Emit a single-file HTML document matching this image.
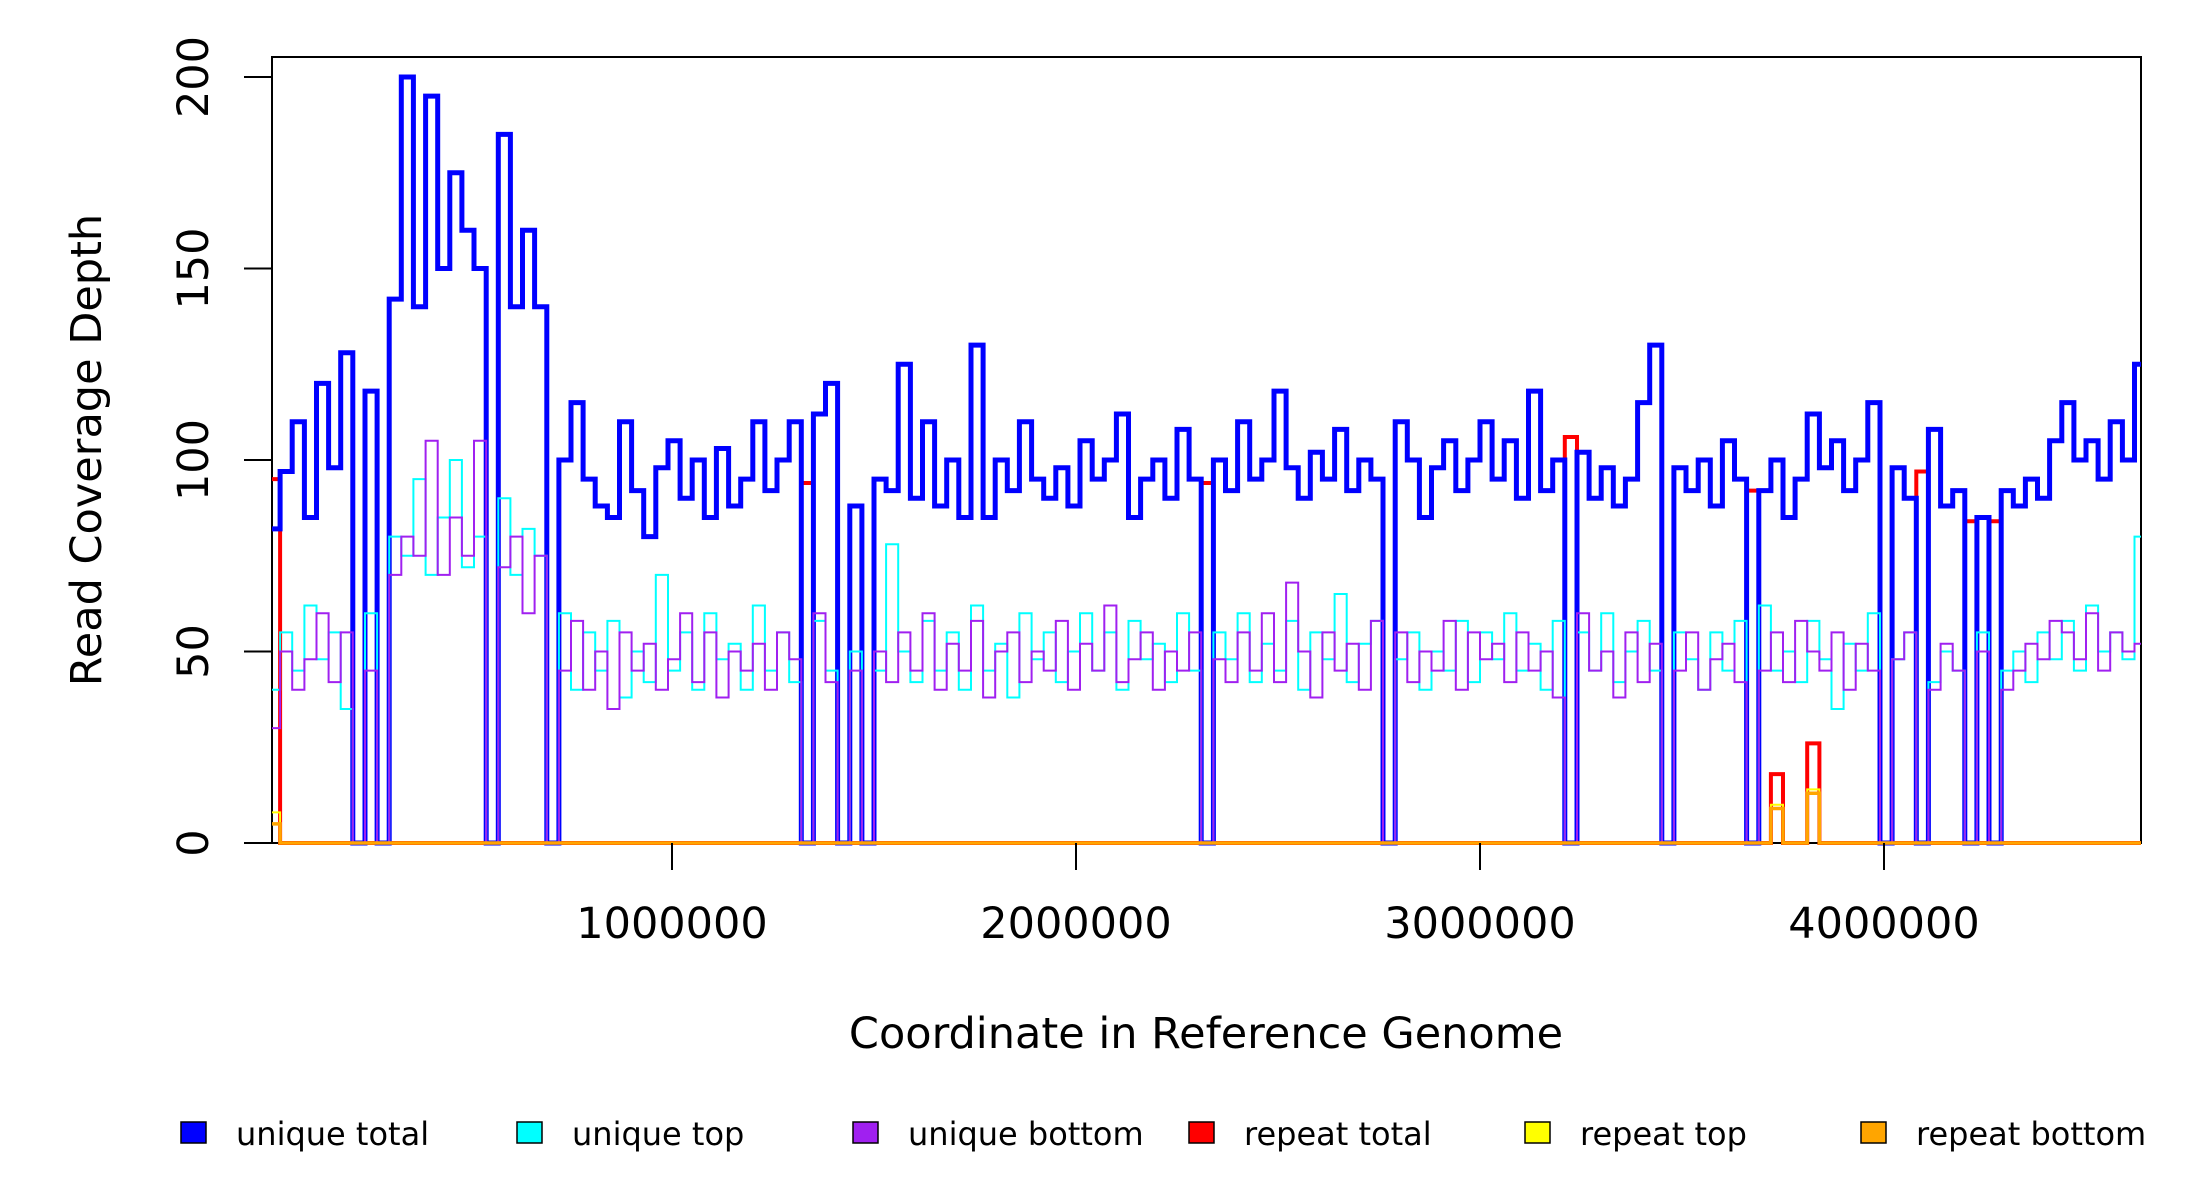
<!DOCTYPE html>
<html><head><meta charset="utf-8"><style>
html,body{margin:0;padding:0;background:#fff;}
svg{display:block;font-family:"DejaVu Sans","Liberation Sans",sans-serif;}
</style></head><body>
<svg id="chart" width="2200" height="1200" viewBox="0 0 2200 1200" xmlns="http://www.w3.org/2000/svg">
<defs><clipPath id="plotclip"><rect x="272" y="57" width="1869" height="790"/></clipPath></defs>
<rect x="0" y="0" width="2200" height="1200" fill="#fff"/>
<rect x="272" y="57" width="1869" height="786" fill="none" stroke="#000" stroke-width="2"/>
<g id="series" clip-path="url(#plotclip)"></g>
<g id="axes"></g>
<text x="101" y="450" transform="rotate(-90 101 450)" text-anchor="middle" font-size="43" fill="#000">Read Coverage Depth</text>
<text x="1206" y="1048" text-anchor="middle" font-size="43" fill="#000">Coordinate in Reference Genome</text>
<g id="legend"></g>
</svg>
<script>
const binSize = 30000;
const xTicks = [1000000, 2000000, 3000000, 4000000];
const xTickLabels = ["1000000", "2000000", "3000000", "4000000"];
const yTicks = [0, 50, 100, 150, 200];
const yTickLabels = ["0", "50", "100", "150", "200"];
const seriesNames = ["unique total", "unique top", "unique bottom", "repeat total", "repeat top", "repeat bottom"];
const seriesColors = ["#0000ff", "#00ffff", "#a020f0", "#ff0000", "#ffff00", "#ffa500"];

const uniqueTotal = [82,97,110,85,120,98,128,0,118,0,142,200,140,195,150,175,160,150,0,185,140,160,140,0,100,115,95,88,85,110,92,80,98,105,90,100,85,103,88,95,110,92,100,110,0,112,120,0,88,0,95,92,125,90,110,88,100,85,130,85,100,92,110,95,90,98,88,105,95,100,112,85,95,100,90,108,95,0,100,92,110,95,100,118,98,90,102,95,108,92,100,95,0,110,100,85,98,105,92,100,110,95,105,90,118,92,100,0,102,90,98,88,95,115,130,0,98,92,100,88,105,95,0,92,100,85,95,112,98,105,92,100,115,0,98,90,0,108,88,92,0,85,0,92,88,95,90,105,115,100,105,95,110,100,125,95,90];
const uniqueTop = [40,55,45,62,48,55,35,0,60,0,80,75,95,70,85,100,72,80,0,90,70,82,75,0,60,40,55,45,58,38,50,42,70,45,55,40,60,48,52,40,62,45,55,42,0,58,45,0,50,0,45,78,50,42,58,45,55,40,62,45,52,38,60,48,55,42,50,60,45,55,40,58,48,52,42,60,45,0,55,48,60,42,52,45,58,40,55,48,65,42,52,58,0,48,55,40,50,45,58,42,55,48,60,45,52,40,58,0,55,45,60,42,50,58,45,0,55,48,40,55,45,58,0,62,45,50,42,58,48,35,52,45,60,0,48,55,0,42,50,45,0,55,0,45,50,42,55,48,58,45,62,50,55,48,80,45,55];
const uniqueBottom = [30,50,40,48,60,42,55,0,45,0,70,80,75,105,70,85,75,105,0,72,80,60,75,0,45,58,40,50,35,55,45,52,40,48,60,42,55,38,50,45,52,40,55,48,0,60,42,0,45,0,50,42,55,45,60,40,52,45,58,38,50,55,42,50,45,58,40,52,45,62,42,48,55,40,50,45,55,0,48,42,55,45,60,42,68,50,38,55,45,52,40,58,0,55,42,50,45,58,40,55,48,52,42,55,45,50,38,0,60,45,50,38,55,42,52,0,45,55,40,48,52,42,0,45,55,42,58,50,45,55,40,52,45,0,48,55,0,40,52,45,0,50,0,40,45,52,48,58,55,48,60,45,55,50,52,48,55];
const repeatTotal = [95,0,0,0,0,0,0,0,0,0,0,0,0,0,0,0,0,0,0,0,0,0,0,0,0,0,0,0,0,0,0,0,0,0,0,0,0,0,0,0,0,0,0,0,94,0,0,0,0,0,0,0,0,0,0,0,0,0,0,0,0,0,0,0,0,0,0,0,0,0,0,0,0,0,0,0,0,94,0,0,0,0,0,0,0,0,0,0,0,0,0,0,0,0,0,0,0,0,0,0,0,0,0,0,0,0,0,106,0,0,0,0,0,0,0,0,0,0,0,0,0,0,92,0,18,0,0,26,0,0,0,0,0,0,0,0,97,0,0,0,84,0,84,0,0,0,0,0,0,0,0,0,0,0,0,0,0];
const repeatTop = [8,0,0,0,0,0,0,0,0,0,0,0,0,0,0,0,0,0,0,0,0,0,0,0,0,0,0,0,0,0,0,0,0,0,0,0,0,0,0,0,0,0,0,0,0,0,0,0,0,0,0,0,0,0,0,0,0,0,0,0,0,0,0,0,0,0,0,0,0,0,0,0,0,0,0,0,0,0,0,0,0,0,0,0,0,0,0,0,0,0,0,0,0,0,0,0,0,0,0,0,0,0,0,0,0,0,0,0,0,0,0,0,0,0,0,0,0,0,0,0,0,0,0,0,10,0,0,14,0,0,0,0,0,0,0,0,0,0,0,0,0,0,0,0,0,0,0,0,0,0,0,0,0,0,0,0,0];
const repeatBottom = [5,0,0,0,0,0,0,0,0,0,0,0,0,0,0,0,0,0,0,0,0,0,0,0,0,0,0,0,0,0,0,0,0,0,0,0,0,0,0,0,0,0,0,0,0,0,0,0,0,0,0,0,0,0,0,0,0,0,0,0,0,0,0,0,0,0,0,0,0,0,0,0,0,0,0,0,0,0,0,0,0,0,0,0,0,0,0,0,0,0,0,0,0,0,0,0,0,0,0,0,0,0,0,0,0,0,0,0,0,0,0,0,0,0,0,0,0,0,0,0,0,0,0,0,9,0,0,13,0,0,0,0,0,0,0,0,0,0,0,0,0,0,0,0,0,0,0,0,0,0,0,0,0,0,0,0,0];

const NS = "http://www.w3.org/2000/svg";
function px(c){ return 268 + c * 0.000404; }
function py(v){ return 843 - v * 3.83; }

function stepPath(vals){
  let d = "M" + px(0).toFixed(1) + "," + py(vals[0]).toFixed(1);
  for (let i = 0; i < vals.length; i++){
    d += "H" + px((i + 1) * binSize).toFixed(1);
    if (i + 1 < vals.length) d += "V" + py(vals[i + 1]).toFixed(1);
  }
  return d;
}

const seriesG = document.getElementById("series");
const allSeries = [uniqueTotal, uniqueTop, uniqueBottom, repeatTotal, repeatTop, repeatBottom];
const widths = [5, 2, 2, 4, 2, 3.5];
const seriesKeys = ["unique-total", "unique-top", "unique-bottom", "repeat-total", "repeat-top", "repeat-bottom"];
const drawOrder = [3, 4, 0, 1, 2, 5];
for (const s of drawOrder){
  const p = document.createElementNS(NS, "path");
  p.setAttribute("d", stepPath(allSeries[s]));
  p.setAttribute("fill", "none");
  p.setAttribute("stroke", seriesColors[s]);
  p.setAttribute("stroke-width", widths[s]);
  p.setAttribute("stroke-linejoin", "miter");
  
  
  seriesG.appendChild(p);
}

const axes = document.getElementById("axes");
for (let i = 0; i < yTicks.length; i++){
  const y = py(yTicks[i]);
  const l = document.createElementNS(NS, "line");
  l.setAttribute("x1", 244); l.setAttribute("x2", 272);
  l.setAttribute("y1", y); l.setAttribute("y2", y);
  l.setAttribute("stroke", "#000"); l.setAttribute("stroke-width", 2);
  
  
  axes.appendChild(l);
  const t = document.createElementNS(NS, "text");
  t.setAttribute("x", 208); t.setAttribute("y", y);
  t.setAttribute("transform", "rotate(-90 208 " + y + ")");
  t.setAttribute("text-anchor", "middle");
  t.setAttribute("font-size", "43");
  t.textContent = yTickLabels[i];
  
  
  axes.appendChild(t);
}
for (let i = 0; i < xTicks.length; i++){
  const x = px(xTicks[i]);
  const l = document.createElementNS(NS, "line");
  l.setAttribute("x1", x); l.setAttribute("x2", x);
  l.setAttribute("y1", 843); l.setAttribute("y2", 870);
  l.setAttribute("stroke", "#000"); l.setAttribute("stroke-width", 2);
  
  
  axes.appendChild(l);
  const t = document.createElementNS(NS, "text");
  t.setAttribute("x", x); t.setAttribute("y", 938);
  t.setAttribute("text-anchor", "middle");
  t.setAttribute("font-size", "43");
  t.textContent = xTickLabels[i];
  
  
  axes.appendChild(t);
}

const legend = document.getElementById("legend");
for (let i = 0; i < seriesNames.length; i++){
  const bx = 181 + i * 336;
  const r = document.createElementNS(NS, "rect");
  r.setAttribute("x", bx); r.setAttribute("y", 1122);
  r.setAttribute("width", 25); r.setAttribute("height", 21);
  r.setAttribute("fill", seriesColors[i]);
  r.setAttribute("stroke", "#000"); r.setAttribute("stroke-width", 1.5);
  
  
  legend.appendChild(r);
  const t = document.createElementNS(NS, "text");
  t.setAttribute("x", bx + 55); t.setAttribute("y", 1145);
  t.setAttribute("font-size", "32");
  t.textContent = seriesNames[i];
  
  
  legend.appendChild(t);
}
</script>
</body></html>
